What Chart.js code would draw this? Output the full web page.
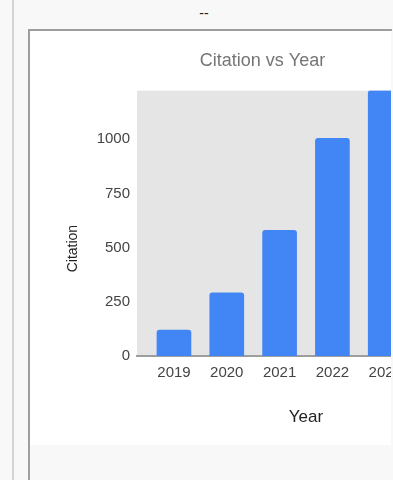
<!DOCTYPE html>
<html>
<head>
<meta charset="utf-8">
<script src="https://cdn.jsdelivr.net/npm/chart.js@4"></script>
<style>
  body { margin: 0; background: #f8f8f8; font-family: Arial, "Liberation Sans", sans-serif; }
  #rule { position: absolute; left: 12px; top: 0; width: 2px; height: 480px; background: #d4d4d4; }
  #dash { position: absolute; left: 0; width: 408px; top: 5px; text-align: center; font-size: 14px; color: #222; }
  #card { position: absolute; left: 28px; top: 29px; width: 362px; height: 460px;
          border-left: 2px solid #9e9e9e; border-top: 2px solid #9e9e9e; overflow: hidden; }
  #box { width: 361px; height: 414px; background: #fff; overflow: hidden; }
  canvas { display: block; }
</style>
</head>
<body>
<div id="rule"></div>
<div id="dash">--</div>
<div id="card"><div id="box"><canvas id="chart" width="465" height="414"></canvas></div></div>
<script>
var years = [2019, 2020, 2021, 2022, 2023]
var citations = [120, 292, 580, 1005, 1225]
var yTicks = [0, 250, 500, 750, 1000]
var xTicks = [2019, 2020, 2021, 2022, 2023, 2024]

var points = years.map(function (y, i) { return {x: y, y: citations[i]} })

var font = 'Arial, "Liberation Sans"'

// grey plot area like google charts
var plotBg = {
  id: 'plotBg',
  beforeDraw: function (chart) {
    var a = chart.chartArea
    var c = chart.ctx
    c.save()
    c.fillStyle = '#e5e5e5'
    c.fillRect(a.left, a.top, a.right - a.left, a.bottom - a.top)
    c.restore()
  }
}

var ctx = document.getElementById('chart').getContext('2d')

new Chart(ctx, {
  type: 'bar',
  data: {
    datasets: [{
      label: 'Citation',
      data: points,
      backgroundColor: '#4285f4',
      barThickness: 34,
      borderRadius: 3,
      borderSkipped: 'bottom'
    }]
  },
  plugins: [plotBg],
  options: {
    responsive: false,
    animation: false,
    layout: { padding: 0 },
    plugins: {
      legend: { display: false },
      tooltip: { enabled: false },
      title: {
        display: true,
        text: 'Citation vs Year',
        color: '#757575',
        font: { family: font, size: 18, weight: 'normal' },
        padding: { top: 19, bottom: 19 }
      }
    },
    scales: {
      x: {
        type: 'linear',
        offset: false,
        min: 2018.3,
        max: 2024.7,
        afterBuildTicks: function (s) { s.ticks = xTicks.map(function (v) { return {value: v} }) },
        afterFit: function (s) { s.height = 89 },
        grid: { display: false, drawTicks: false },
        border: { display: true, color: '#9e9e9e', width: 2 },
        ticks: {
          padding: 8,
          color: '#444',
          font: { family: font, size: 15 },
          callback: function (v) { return String(v) }
        },
        title: {
          display: true,
          text: 'Year',
          color: '#222',
          font: { family: font, size: 17 },
          padding: { top: 26, bottom: 17 }
        }
      },
      y: {
        min: 0,
        max: Math.max.apply(null, citations),
        afterBuildTicks: function (s) { s.ticks = yTicks.map(function (v) { return {value: v} }) },
        afterFit: function (s) { s.width = 107 },
        grid: { display: false, drawTicks: false },
        border: { display: false },
        ticks: {
          padding: 7,
          color: '#444',
          font: { family: font, size: 15 },
          callback: function (v) { return String(v) }
        },
        title: {
          display: true,
          // trailing spaces push the label below the middle of the plot
          text: 'Citation' + ' '.repeat(13),
          color: '#222',
          font: { family: font, size: 14 },
          padding: { top: 35, bottom: 10 }
        }
      },
      // empty axis just to leave room on the right
      yRight: {
        type: 'linear',
        position: 'right',
        afterFit: function (s) { s.width = 20 },
        grid: { display: false },
        border: { display: false },
        ticks: { display: false }
      }
    }
  }
})
</script>
</body>
</html>
